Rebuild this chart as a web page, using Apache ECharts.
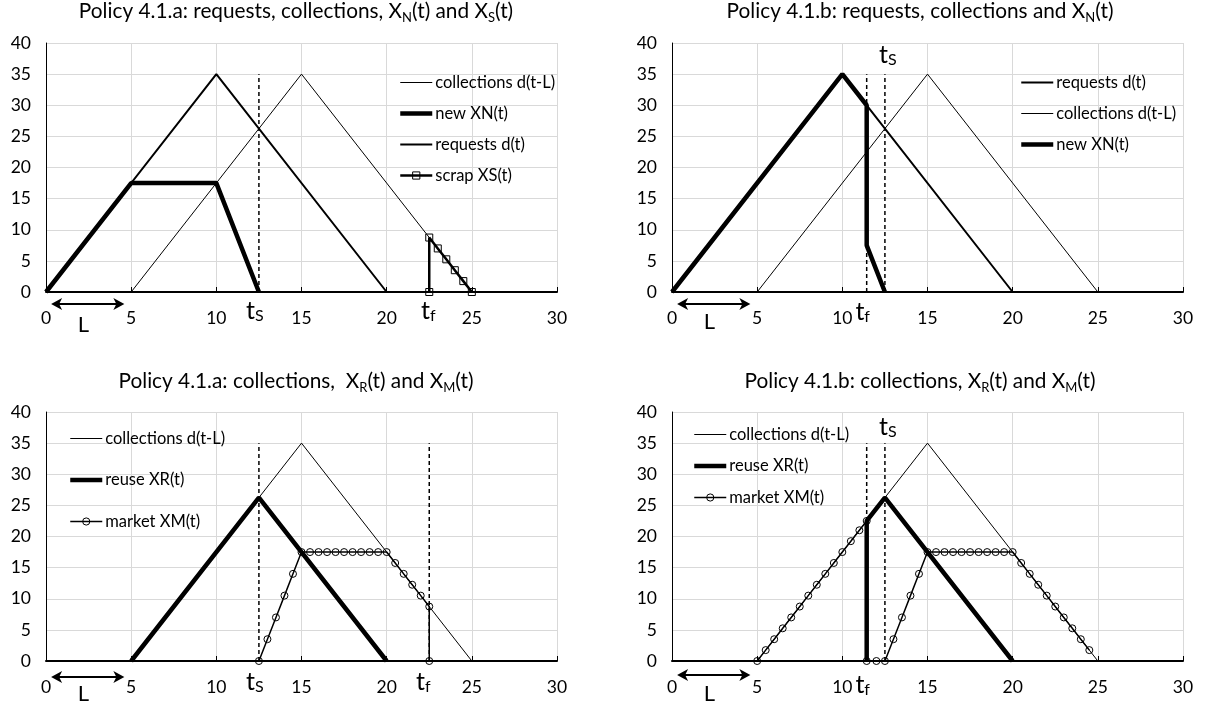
<!DOCTYPE html>
<html lang="en">
<head>
<meta charset="UTF-8">
<title>Policy 4.1.a / 4.1.b</title>
<script src="https://cdn.jsdelivr.net/npm/echarts@6/dist/echarts.min.js"></script>
<style>
    html, body { margin: 0; padding: 0; background: #fff; }
    #container { width: 1206px; height: 708px; }
</style>
</head>
<body>
<div id="container"></div>
<script type="text/javascript">
    // requests d(t) and collections d(t-L), same in every panel
    const requestsD = [[0, 0], [10, 35], [20, 0]];
    const collectionsD = [[5, 0], [15, 35], [25, 0]];
    const guideTop = 35;

    // policy 4.1.a
    const tsA = 12.5;
    const tfA = 22.5;
    const newXNa = [[0, 0], [5, 17.5], [10, 17.5], [12.5, 0]];
    const scrapXSa = [[22.5, 0], [22.5, 8.75], [23, 7], [23.5, 5.25], [24, 3.5], [24.5, 1.75], [25, 0]];
    const reuseXRa = [[5, 0], [12.5, 26.25], [20, 0]];
    const marketXMa = [
        [12.5, 0], [13, 3.5], [13.5, 7], [14, 10.5], [14.5, 14], [15, 17.5],
        [15.5, 17.5], [16, 17.5], [16.5, 17.5], [17, 17.5], [17.5, 17.5], [18, 17.5],
        [18.5, 17.5], [19, 17.5], [19.5, 17.5], [20, 17.5],
        [20.5, 15.75], [21, 14], [21.5, 12.25], [22, 10.5], [22.5, 8.75], [22.5, 0]
    ];

    // policy 4.1.b
    const tsB = 12.5;
    const tfB = 11.43;
    const newXNb = [[0, 0], [10, 35], [11.43, 30], [11.43, 7.5], [12.5, 0]];
    const reuseXRb = [[11.43, 0], [11.43, 22.5], [12.5, 26.25], [20, 0]];
    const marketXMb = [
        [5, 0], [5.5, 1.75], [6, 3.5], [6.5, 5.25], [7, 7], [7.5, 8.75], [8, 10.5],
        [8.5, 12.25], [9, 14], [9.5, 15.75], [10, 17.5], [10.5, 19.25], [11, 21], [11.43, 22.5],
        [11.43, 0], [12, 0], [12.5, 0],
        [13, 3.5], [13.5, 7], [14, 10.5], [14.5, 14], [15, 17.5],
        [15.5, 17.5], [16, 17.5], [16.5, 17.5], [17, 17.5], [17.5, 17.5], [18, 17.5],
        [18.5, 17.5], [19, 17.5], [19.5, 17.5], [20, 17.5],
        [20.5, 15.75], [21, 14], [21.5, 12.25], [22, 10.5], [22.5, 8.75],
        [23, 7], [23.5, 5.25], [24, 3.5], [24.5, 1.75]
    ];

    const titles = [
        'Policy 4.1.a: requests, collections, X{s|N}(t) and X{s|S}(t)',
        'Policy 4.1.b: requests, collections and X{s|N}(t)',
        'Policy 4.1.a: collections,  X{s|R}(t) and X{s|M}(t)',
        'Policy 4.1.b: collections, X{s|R}(t) and X{s|M}(t)'
    ];
    const xTicks = [0, 30, 5];
    const yTicks = [0, 40, 5];

    const FONT = 'Lato';
    const dom = document.getElementById('container');
    const myChart = echarts.init(dom, null, { renderer: 'canvas' });

    function line(name, g, data, width, extra) {
        return Object.assign({
            name: name,
            type: 'line',
            xAxisIndex: g,
            yAxisIndex: g,
            data: data,
            symbol: 'none',
            lineStyle: { color: '#000', width: width },
            itemStyle: { color: '#000' },
            silent: true,
            animation: false
        }, extra || {});
    }
    function marked(name, g, data, width, shape) {
        return line(name, g, data, width, {
            symbol: shape,
            symbolSize: 7,
            showSymbol: true,
            itemStyle: { color: 'rgba(0,0,0,0)', borderColor: '#000', borderWidth: 1 }
        });
    }
    function guide(g, x) {
        return line('guide', g, [[x, 0], [x, guideTop]], 1.5, {
            lineStyle: { color: '#000', width: 1.5, type: [4, 3] }
        });
    }

    const series = [
        // 4.1.a requests / collections
        line('collections d(t-L)', 0, collectionsD, 1),
        guide(0, tsA),
        line('new XN(t)', 0, newXNa, 4.5),
        line('requests d(t)', 0, requestsD, 2),
        marked('scrap XS(t)', 0, scrapXSa, 2.5, 'rect'),
        // 4.1.b requests / collections
        guide(1, tfB),
        guide(1, tsB),
        line('requests d(t)', 1, requestsD, 2),
        line('collections d(t-L)', 1, collectionsD, 1),
        line('new XN(t)', 1, newXNb, 4.5),
        // 4.1.a reuse / market
        line('collections d(t-L)', 2, collectionsD, 1),
        guide(2, tsA),
        guide(2, tfA),
        line('reuse XR(t)', 2, reuseXRa, 4.5),
        marked('market XM(t)', 2, marketXMa, 1.5, 'circle'),
        // 4.1.b reuse / market
        line('collections d(t-L)', 3, collectionsD, 1),
        guide(3, tfB),
        guide(3, tsB),
        line('reuse XR(t)', 3, reuseXRb, 4.5),
        marked('market XM(t)', 3, marketXMb, 1.5, 'circle')
    ];

    const plain = { opacity: 0 };
    const hollow = { color: 'rgba(0,0,0,0)', borderColor: '#000', borderWidth: 1 };
    function legend(left, top, gap, names) {
        return {
            left: left, top: top, orient: 'vertical', padding: 0,
            itemWidth: 32, itemHeight: 9, itemGap: gap,
            selectedMode: false,
            lineStyle: { width: 'inherit' },
            textStyle: { fontFamily: FONT, fontSize: 16.5, color: '#000', padding: [0, 0, 0, -2] },
            data: names.map(n => ({ name: n, itemStyle: (n === 'scrap XS(t)' || n === 'market XM(t)') ? hollow : plain }))
        };
    }

    const grids = [
        { left: 46, top: 43, width: 511, height: 249 },
        { left: 672, top: 43, width: 511, height: 249 },
        { left: 46, top: 412, width: 511, height: 249 },
        { left: 672, top: 412, width: 511, height: 249 }
    ];
    const titlePos = [[296, -2], [920, -2], [296, 368], [920, 368]];

    const option = {
        animation: false,
        textStyle: { fontFamily: FONT },
        title: titles.map((t, i) => ({
            text: t,
            left: titlePos[i][0],
            top: titlePos[i][1],
            textAlign: 'center',
            padding: 0,
            textStyle: {
                fontFamily: FONT, fontSize: 20.8, fontWeight: 'normal', color: '#000', lineHeight: 26,
                rich: { s: { fontFamily: FONT, fontSize: 13, lineHeight: 10, verticalAlign: 'bottom', color: '#000' } }
            }
        })),
        legend: [
            legend(398, 74, 14, ['collections d(t-L)', 'new XN(t)', 'requests d(t)', 'scrap XS(t)']),
            legend(1019, 74, 14, ['requests d(t)', 'collections d(t-L)', 'new XN(t)']),
            legend(68, 430, 24.5, ['collections d(t-L)', 'reuse XR(t)', 'market XM(t)']),
            legend(692, 426, 14.5, ['collections d(t-L)', 'reuse XR(t)', 'market XM(t)'])
        ],
        grid: grids,
        xAxis: grids.map((g, i) => ({
            type: 'value', gridIndex: i,
            min: xTicks[0], max: xTicks[1], interval: xTicks[2],
            axisLine: { show: true, onZero: false, lineStyle: { color: '#000', width: 2 } },
            axisTick: { show: true, inside: true, length: 5, lineStyle: { color: '#000' } },
            axisLabel: { fontFamily: FONT, fontSize: 17.5, color: '#000', margin: 17 },
            splitLine: { show: true, lineStyle: { color: '#d9d9d9', width: 1 } }
        })),
        yAxis: grids.map((g, i) => ({
            type: 'value', gridIndex: i,
            min: yTicks[0], max: yTicks[1], interval: yTicks[2],
            axisLine: { show: true, onZero: false, lineStyle: { color: '#000', width: 1 } },
            axisTick: { show: false },
            axisLabel: { fontFamily: FONT, fontSize: 17.5, color: '#000', margin: 15 },
            splitLine: { show: true, lineStyle: { color: '#d9d9d9', width: 1 } }
        })),
        series: series
    };

    myChart.setOption(option);

    // t_S / t_f labels and the L arrow, anchored on data coordinates
    const notes = [
        { g: 0, x: tsA, sub: 'S', at: 0, dx: -4, dy: 19 },
        { g: 0, x: tfA, sub: 'f', at: 0, dx: -1, dy: 19 },
        { g: 1, x: tsB, sub: 'S', at: 40, dx: 3, dy: 12 },
        { g: 1, x: tfB, sub: 'f', at: 0, dx: -4, dy: 20 },
        { g: 2, x: tsA, sub: 'S', at: 0, dx: -4, dy: 21 },
        { g: 2, x: tfA, sub: 'f', at: 0, dx: -6, dy: 21 },
        { g: 3, x: tsB, sub: 'S', at: 40, dx: 3, dy: 15 },
        { g: 3, x: tfB, sub: 'f', at: 0, dx: -4, dy: 24 }
    ];
    const arrowDy = [12, 12, 16, 14];
    const letterDy = [33, 30, 33, 33];

    function px(g, x, y) {
        return myChart.convertToPixel({ gridIndex: g }, [x, y]);
    }
    function head(x, y, dir) {
        return {
            type: 'polygon', silent: true,
            shape: { points: [[x, y], [x + dir * 11, y - 6], [x + dir * 8, y], [x + dir * 11, y + 6]] },
            style: { fill: '#000' }
        };
    }

    const graphics = [];
    notes.forEach(n => {
        const p = px(n.g, n.x, n.at);
        graphics.push({
            type: 'text', silent: true,
            x: p[0] + n.dx, y: p[1] + n.dy,
            style: {
                text: '{t|t}{s|' + n.sub + '}',
                align: 'center', verticalAlign: 'middle',
                rich: {
                    t: { fontFamily: FONT, fontSize: 25, lineHeight: 26, fill: '#000' },
                    s: { fontFamily: FONT, fontSize: 16, lineHeight: 16, verticalAlign: 'bottom', fill: '#000' }
                }
            }
        });
    });
    grids.forEach((g, i) => {
        const a = px(i, 0.3, 0);
        const b = px(i, 4.6, 0);
        const y = a[1] + arrowDy[i];
        graphics.push({
            type: 'line', silent: true,
            shape: { x1: a[0] + 4, y1: y, x2: b[0] - 4, y2: y },
            style: { stroke: '#000', lineWidth: 2 }
        });
        graphics.push(head(a[0], y, 1));
        graphics.push(head(b[0], y, -1));
        const c = px(i, 2.2, 0);
        graphics.push({
            type: 'text', silent: true,
            x: c[0], y: c[1] + letterDy[i],
            style: { text: 'L', fontFamily: FONT, fontSize: 22, fill: '#000', align: 'center', verticalAlign: 'middle' }
        });
    });
    myChart.setOption({ graphic: graphics });

    window.addEventListener('resize', myChart.resize);
</script>
</body>
</html>
